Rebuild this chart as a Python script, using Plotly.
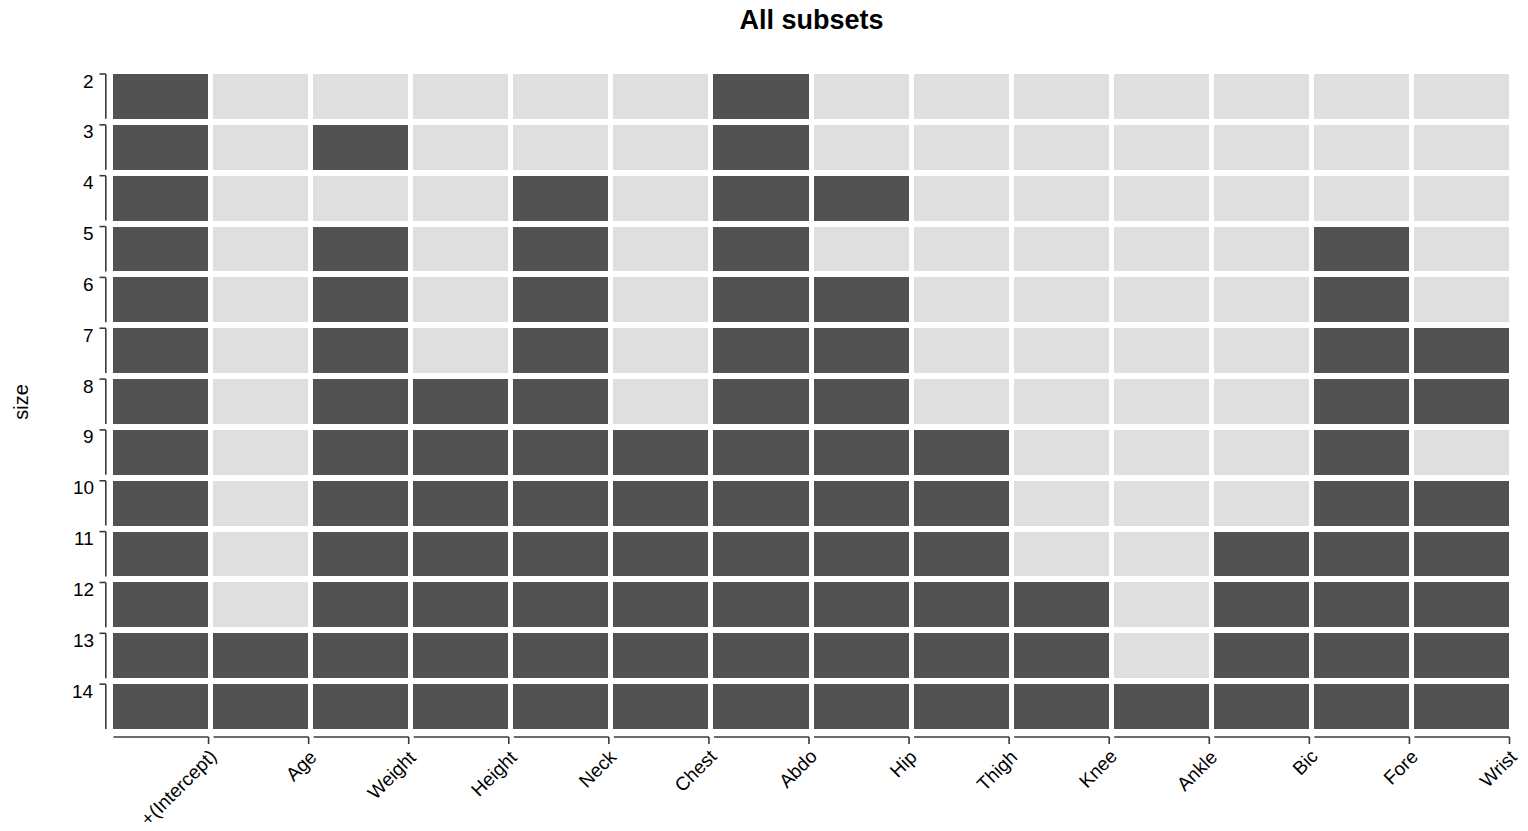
import plotly.graph_objects as go

# Candidate predictors, in column order
variables = ["+(Intercept)", "Age", "Weight", "Height", "Neck", "Chest", "Abdo",
             "Hip", "Thigh", "Knee", "Ankle", "Bic", "Fore", "Wrist"]

# Model sizes (number of terms including the intercept)
sizes = [2, 3, 4, 5, 6, 7, 8, 9, 10, 11, 12, 13, 14]

# Terms selected in the best subset of each size
selected = [
    ["+(Intercept)", "Abdo"],
    ["+(Intercept)", "Weight", "Abdo"],
    ["+(Intercept)", "Neck", "Abdo", "Hip"],
    ["+(Intercept)", "Weight", "Neck", "Abdo", "Fore"],
    ["+(Intercept)", "Weight", "Neck", "Abdo", "Hip", "Fore"],
    ["+(Intercept)", "Weight", "Neck", "Abdo", "Hip", "Fore", "Wrist"],
    ["+(Intercept)", "Weight", "Height", "Neck", "Abdo", "Hip", "Fore", "Wrist"],
    ["+(Intercept)", "Weight", "Height", "Neck", "Chest", "Abdo", "Hip", "Thigh", "Fore"],
    ["+(Intercept)", "Weight", "Height", "Neck", "Chest", "Abdo", "Hip", "Thigh", "Fore", "Wrist"],
    ["+(Intercept)", "Weight", "Height", "Neck", "Chest", "Abdo", "Hip", "Thigh", "Bic", "Fore", "Wrist"],
    ["+(Intercept)", "Weight", "Height", "Neck", "Chest", "Abdo", "Hip", "Thigh", "Knee", "Bic", "Fore", "Wrist"],
    ["+(Intercept)", "Age", "Weight", "Height", "Neck", "Chest", "Abdo", "Hip", "Thigh", "Knee", "Bic", "Fore", "Wrist"],
    ["+(Intercept)", "Age", "Weight", "Height", "Neck", "Chest", "Abdo", "Hip", "Thigh", "Knee", "Ankle", "Bic", "Fore", "Wrist"],
]

DARK = "#525252"
LIGHT = "#dfdfdf"
AXIS = "#3a3a3a"
FONT = "Liberation Sans, Arial, Helvetica, sans-serif"

W, H = 1528, 831
ML, MR, MT, MB = 110.8, 16.2, 71.0, 99.2
XGAP, YGAP = 5, 6

plot_w = W - ML - MR
plot_h = H - MT - MB
n_x, n_y = len(variables), len(sizes)
gx = (XGAP / 2) / (plot_w / n_x)   # half-gap in data units (x)
gy = (YGAP / 2) / (plot_h / n_y)   # half-gap in data units (y)

z = [[1 if v in inc else 0 for v in variables] for inc in selected]
xs = list(range(n_x))

fig = go.Figure(go.Heatmap(
    x=xs, y=sizes, z=z,
    zmin=0, zmax=1,
    colorscale=[[0, LIGHT], [0.5, LIGHT], [0.5, DARK], [1, DARK]],
    showscale=False, xgap=XGAP, ygap=YGAP, hoverinfo="skip",
))

shapes = []
annotations = []

# y axis: one bracket per row, tick at the top of each cell
for s in sizes:
    top = s - 0.5 + gy
    bot = s + 0.5 - gy
    shapes.append(dict(type="line", xref="paper", yref="y", xsizemode="pixel", xanchor=0,
                       x0=-5.2, x1=-5.2, y0=top, y1=bot, line=dict(color=AXIS, width=1.6)))
    shapes.append(dict(type="line", xref="paper", yref="y", xsizemode="pixel", xanchor=0,
                       x0=-11.5, x1=-5.2, y0=top, y1=top, line=dict(color=AXIS, width=1.6)))
    annotations.append(dict(text=str(s), xref="paper", yref="y", x=0, y=top,
                            xanchor="right", yanchor="middle", xshift=-15, yshift=-7,
                            showarrow=False, font=dict(family=FONT, size=19, color="black")))

# x axis: one bracket per column, tick at the right end of each cell
for i, v in enumerate(variables):
    left = i - 0.5 + gx
    right = i + 0.5 - gx
    shapes.append(dict(type="line", xref="x", yref="paper", ysizemode="pixel", yanchor=0,
                       x0=left, x1=right, y0=-5, y1=-5, line=dict(color=AXIS, width=1.6)))
    shapes.append(dict(type="line", xref="x", yref="paper", ysizemode="pixel", yanchor=0,
                       x0=right, x1=right, y0=-5, y1=-12, line=dict(color=AXIS, width=1.6)))
    annotations.append(dict(text=v, xref="x", yref="paper", x=right, y=0,
                            xanchor="right", yanchor="top", xshift=15, yshift=-11,
                            textangle=-45, showarrow=False,
                            font=dict(family=FONT, size=19, color="black")))

# axis title
annotations.append(dict(text="size", xref="paper", yref="paper", x=0, y=0.5,
                        xanchor="center", yanchor="middle", xshift=-ML + 20,
                        textangle=-90, showarrow=False,
                        font=dict(family=FONT, size=20, color="black")))

fig.update_layout(
    width=W, height=H,
    margin=dict(l=ML, r=MR, t=MT, b=MB, pad=0),
    paper_bgcolor="white", plot_bgcolor="white",
    title=dict(text="<b>All subsets</b>", x=0.5, xref="paper", xanchor="center",
               y=1 - 20 / H, yref="container", yanchor="middle",
               font=dict(family=FONT, size=27, color="black")),
    xaxis=dict(visible=False, range=[-0.5, n_x - 0.5], fixedrange=True),
    yaxis=dict(visible=False, range=[max(sizes) + 0.5, min(sizes) - 0.5], fixedrange=True),
    shapes=shapes,
    annotations=annotations,
    showlegend=False,
)

fig.write_html("out.html")
